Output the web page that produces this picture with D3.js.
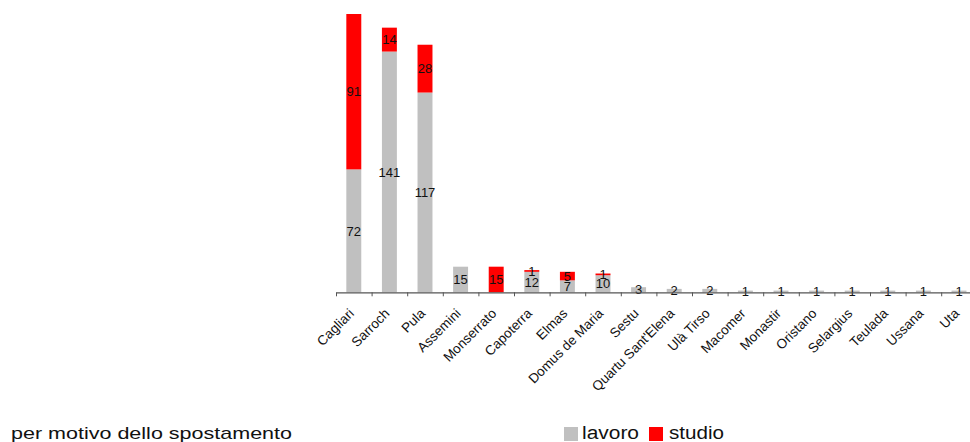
<!DOCTYPE html>
<html><head><meta charset="utf-8">
<script src="https://cdn.jsdelivr.net/npm/d3@7"></script>
<style>body{margin:0;background:#fff;overflow:hidden}svg{display:block;font-family:"Liberation Sans",Arial,sans-serif}</style>
</head><body>
<svg id="c" width="970" height="442"></svg>
<script>
const categories = ["Cagliari","Sarroch","Pula","Assemini","Monserrato","Capoterra","Elmas","Domus de Maria","Sestu","Quartu Sant'Elena","Ulà Tirso","Macomer","Monastir","Oristano","Selargius","Teulada","Ussana","Uta"];
const lavoro = [72,141,117,15,0,12,7,10,3,2,2,1,1,1,1,1,1,1];
const studio = [91,14,28,0,15,1,5,1,0,0,0,0,0,0,0,0,0,0];
const seriesNames = ["lavoro","studio"];
const colors = {lavoro:"#C0C0C0", studio:"#FF0000"};
const footnote = "per motivo dello spostamento";

const svg = d3.select("#c");
const x0 = 336, step = 35.6, axisY = 292.3;
const n = categories.length;
const x = d3.scaleBand().domain(categories).range([x0, x0 + step*n]).paddingInner(0.58).paddingOuter(0.29);
const y = d3.scaleLinear().domain([0,163]).range([axisY, 14]);

const rows = categories.map((c,i)=>({cat:c, lavoro:lavoro[i], studio:studio[i]}));
const stack = d3.stack().keys(seriesNames)(rows);

const g = svg.append("g");
stack.forEach(layer=>{
  g.selectAll(null).data(layer).enter().append("rect")
    .attr("x", d=>x(d.data.cat))
    .attr("width", x.bandwidth())
    .attr("y", d=>y(d[1]))
    .attr("height", d=>y(d[0])-y(d[1]))
    .attr("fill", colors[layer.key]);
});
stack.forEach(layer=>{
  g.selectAll(null).data(layer.filter(d=>d.data[layer.key]>0)).enter().append("text")
    .attr("x", d=>x(d.data.cat)+x.bandwidth()/2)
    .attr("y", d=>(y(d[0])+y(d[1]))/2)
    .attr("dy","0.36em")
    .attr("text-anchor","middle")
    .attr("font-size","13px")
    .attr("fill","#111")
    .text(d=>d.data[layer.key]);
});

// axis with ticks at category boundaries
const xb = d3.scaleLinear().domain([0,n]).range([x0, x0+step*n]);
const ax = svg.append("g").attr("transform",`translate(0,${axisY})`)
  .call(d3.axisBottom(xb).tickValues(d3.range(n+1)).tickFormat("").tickSize(4).tickSizeOuter(0));
ax.select(".domain").attr("stroke","#555").attr("stroke-width",1.2);
ax.selectAll(".tick line").attr("stroke","#555");

svg.append("g").selectAll("text").data(categories).enter().append("text")
  .attr("transform", d=>`translate(${x(d)+x.bandwidth()/2+1},${axisY+22}) rotate(-45)`)
  .attr("text-anchor","end")
  .attr("font-size","13.5px")
  .attr("fill","#111")
  .text(d=>d);

svg.append("text").attr("x",11).attr("y",439).attr("font-size","17px")
  .attr("textLength",281).attr("lengthAdjust","spacingAndGlyphs").attr("fill","#111").text(footnote);

const leg = [{k:"lavoro",rx:564,tx:582,tl:57},{k:"studio",rx:649,tx:669,tl:55}];
leg.forEach(l=>{
  svg.append("rect").attr("x",l.rx).attr("y",427).attr("width",14).attr("height",14).attr("fill",colors[l.k]);
  svg.append("text").attr("x",l.tx).attr("y",439).attr("font-size","18px")
    .attr("textLength",l.tl).attr("lengthAdjust","spacingAndGlyphs").attr("fill","#111").text(l.k);
});
</script>
</body></html>
